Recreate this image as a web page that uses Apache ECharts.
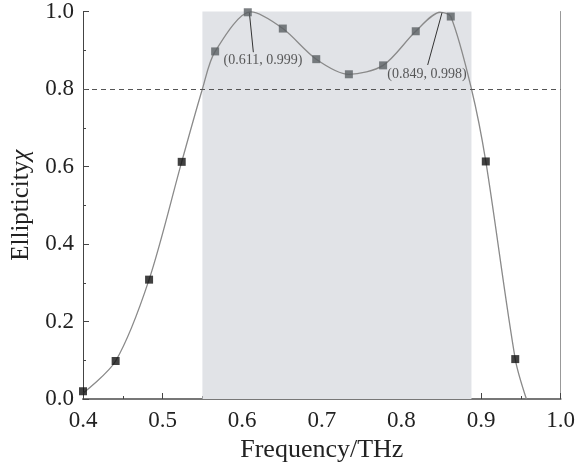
<!DOCTYPE html>
<html>
<head>
<meta charset="utf-8">
<script src="https://cdn.jsdelivr.net/npm/echarts@6/dist/echarts.min.js"></script>
<style>
	html, body { margin: 0; padding: 0; background: #fff; }
	#chart { width: 578px; height: 468px; }
</style>
</head>
<body>
<div id="chart"></div>
<script>
// measured points (squares)
const outerPts = [[0.400, 0.02], [0.441, 0.098], [0.483, 0.308], [0.524, 0.612], [0.906, 0.613], [0.943, 0.103]]
const innerPts = [[0.566, 0.897], [0.607, 0.998], [0.651, 0.956], [0.693, 0.877], [0.734, 0.838], [0.777, 0.861], [0.818, 0.949], [0.862, 0.987]]
// fitted curve nodes (points + labelled peaks + crossings)
const curvePts = [[0.400, 0.015], [0.441, 0.098], [0.483, 0.308], [0.524, 0.612], [0.550, 0.800], [0.566, 0.897], [0.611, 0.999],
	[0.651, 0.956], [0.693, 0.877], [0.734, 0.838], [0.777, 0.861], [0.818, 0.949], [0.849, 0.998], [0.862, 0.987],
	[0.888, 0.800], [0.906, 0.613], [0.943, 0.103], [0.957, 0.0]]
const band = [0.55, 0.888]
const threshold = 0.8
const peakLabels = ['(0.611, 0.999)', '(0.849, 0.998)']
const peakArrows = [[[0.614, 0.895], [0.609, 0.997]], [[0.833, 0.862], [0.851, 0.997]]]
const labelPos = [[0.626, 0.875], [0.832, 0.838]]

const chart = echarts.init(document.getElementById('chart'))
const serif = '"Liberation Serif", "DejaVu Serif", serif'

chart.setOption({
	animation: false,
	grid: { left: 83, right: 10, top: 9, bottom: 69 },
	xAxis: [
		{
			type: 'value', min: 0.4, max: 1.0, interval: 0.1,
			name: 'Frequency/THz', nameLocation: 'middle', nameGap: 36,
			nameTextStyle: { fontFamily: serif, fontSize: 26, color: '#222' },
			axisLine: { lineStyle: { color: '#444', width: 1 } },
			axisTick: { inside: true, length: 6, lineStyle: { color: '#444' } },
			minorTick: { show: true, splitNumber: 2, length: 3, lineStyle: { color: '#444' } },
			axisLabel: { fontFamily: serif, fontSize: 23, color: '#222', margin: 10, formatter: v => v.toFixed(1) },
			splitLine: { show: false }
		},
		{
			type: 'value', min: 0.4, max: 1.0, position: 'top',
			axisLine: { show: true, lineStyle: { color: '#777', width: 2 } },
			axisTick: { show: false }, axisLabel: { show: false }, splitLine: { show: false }
		}
	],
	yAxis: [
		{
			type: 'value', min: 0, max: 1.0, interval: 0.2,
			name: '{a|Ellipticity}{i|χ}', nameLocation: 'middle', nameGap: 47,
			nameTextStyle: {
				fontFamily: serif, fontSize: 25, color: '#222',
				rich: {
					a: { fontFamily: serif, fontSize: 25, color: '#222' },
					i: { fontFamily: serif, fontSize: 25, fontStyle: 'italic', color: '#222' }
				}
			},
			axisLine: { show: true, lineStyle: { color: '#444', width: 1 } },
			axisTick: { inside: true, length: 6, lineStyle: { color: '#444' } },
			minorTick: { show: true, splitNumber: 2, length: 3, lineStyle: { color: '#444' } },
			axisLabel: { fontFamily: serif, fontSize: 23, color: '#222', margin: 9, formatter: v => v.toFixed(1) },
			splitLine: { show: false }
		},
		{
			type: 'value', min: 0, max: 1.0, position: 'right',
			axisLine: { show: true, lineStyle: { color: '#999', width: 1 } },
			axisTick: { show: false }, axisLabel: { show: false }, splitLine: { show: false }
		}
	],
	series: [
		{
			type: 'line', data: curvePts, smooth: 0.3, showSymbol: false, clip: true,
			lineStyle: { color: '#8a8a8a', width: 1.3 }, z: 3,
			markArea: {
				silent: true,
				itemStyle: { color: '#e1e3e7' },
				data: [[{ xAxis: band[0] }, { xAxis: band[1] }]]
			},
			markLine: {
				silent: true, symbol: 'none', label: { show: false },
				lineStyle: { color: '#555', type: [5, 4], width: 1 },
				data: [{ yAxis: threshold }]
			}
		},
		{
			type: 'line', data: [], silent: true,
			markLine: {
				silent: true, symbol: ['none', 'arrow'], symbolSize: [0, 7], label: { show: false },
				lineStyle: { color: '#333', type: 'solid', width: 1 },
				data: peakArrows.map(a => [{ coord: a[0] }, { coord: a[1] }])
			}
		},
		{
			type: 'scatter', symbol: 'rect', symbolSize: 8, data: outerPts,
			itemStyle: { color: '#111' }, z: 5
		},
		{
			type: 'scatter', symbol: 'rect', symbolSize: 8, data: innerPts,
			itemStyle: { color: '#5a5f63' }, z: 5
		},
		{
			type: 'scatter', symbolSize: 0, silent: true,
			data: labelPos.map((p, i) => ({ value: p, label: { formatter: peakLabels[i] } })),
			label: { show: true, position: 'inside', fontFamily: serif, fontSize: 14, color: '#333' }, z: 6
		}
	]
})
</script>
</body>
</html>
